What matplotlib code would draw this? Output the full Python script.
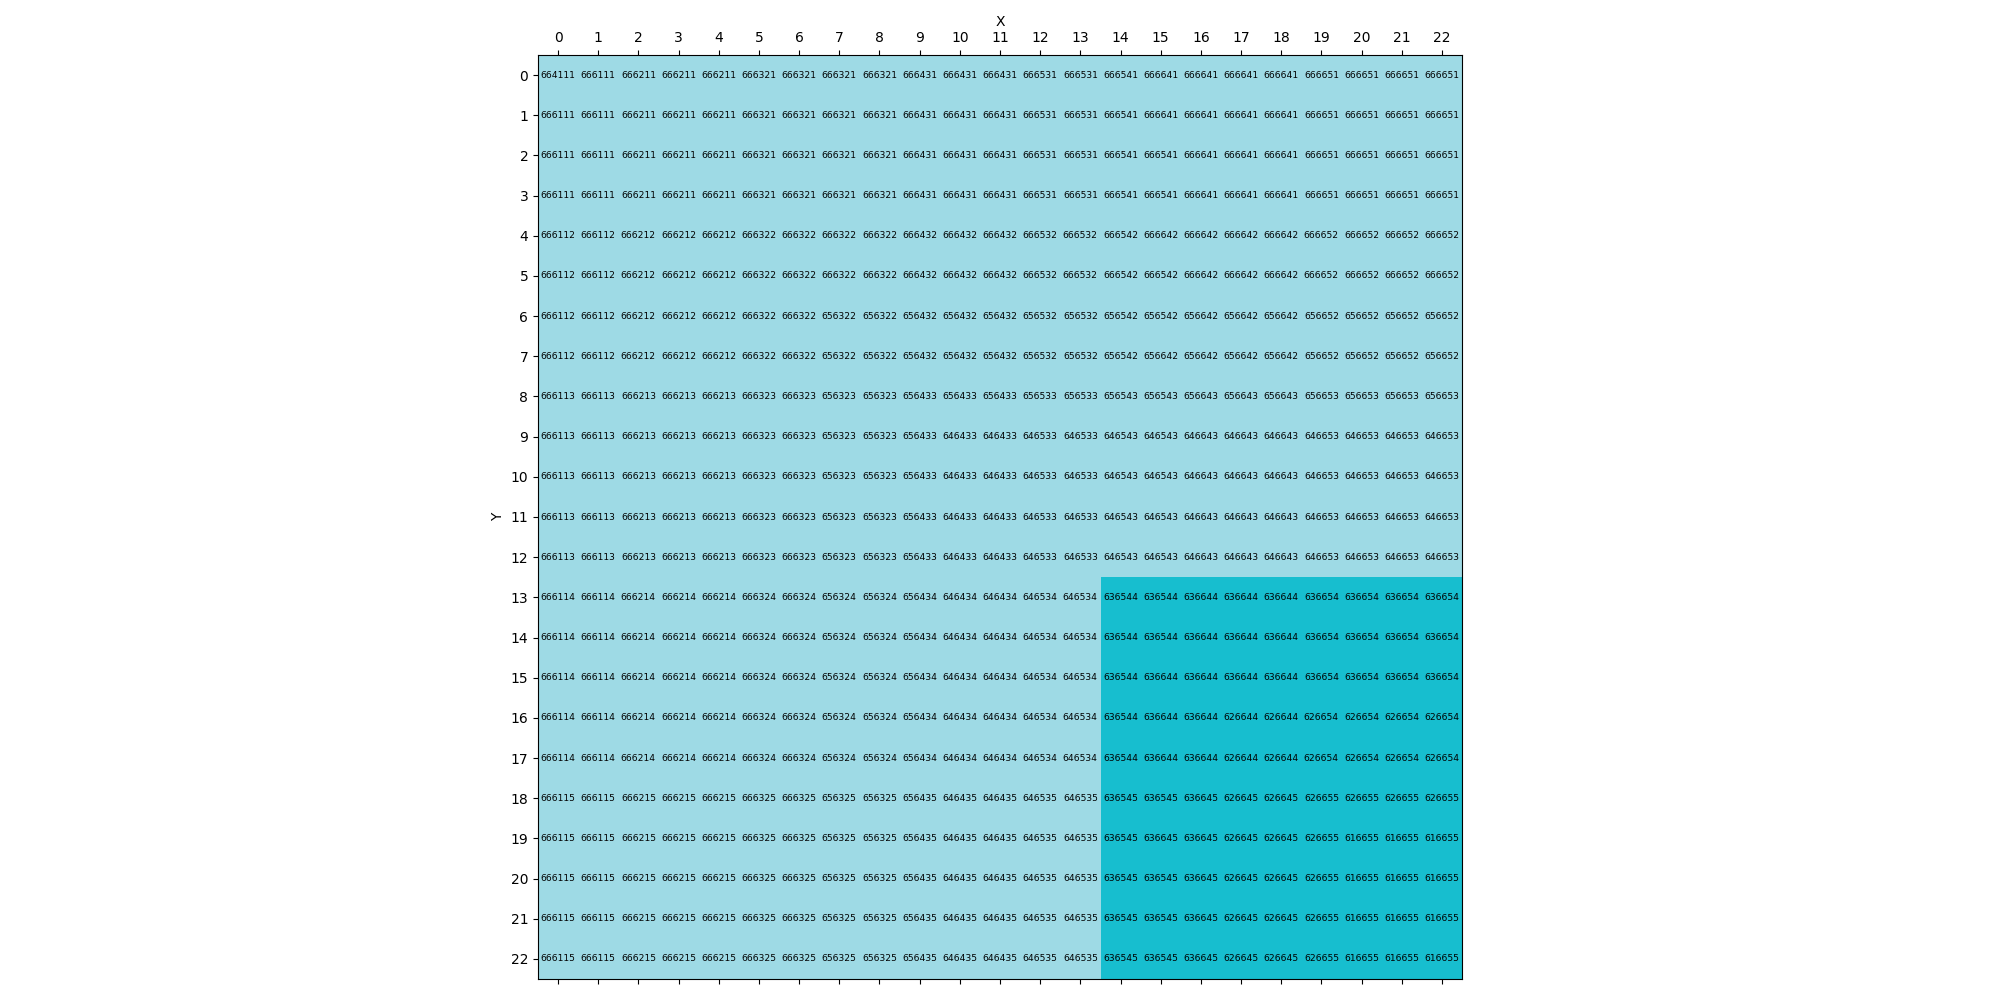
import numpy as np
import matplotlib
matplotlib.use('Agg')
import matplotlib.pyplot as plt
from matplotlib.colors import ListedColormap

# cell codes, one string per grid row (Y = 0..22), columns X = 0..22
rows = [
    "664111 666111 666211 666211 666211 666321 666321 666321 666321 666431 666431 666431 666531 666531 666541 666641 666641 666641 666641 666651 666651 666651 666651",
    "666111 666111 666211 666211 666211 666321 666321 666321 666321 666431 666431 666431 666531 666531 666541 666641 666641 666641 666641 666651 666651 666651 666651",
    "666111 666111 666211 666211 666211 666321 666321 666321 666321 666431 666431 666431 666531 666531 666541 666541 666641 666641 666641 666651 666651 666651 666651",
    "666111 666111 666211 666211 666211 666321 666321 666321 666321 666431 666431 666431 666531 666531 666541 666541 666641 666641 666641 666651 666651 666651 666651",
    "666112 666112 666212 666212 666212 666322 666322 666322 666322 666432 666432 666432 666532 666532 666542 666642 666642 666642 666642 666652 666652 666652 666652",
    "666112 666112 666212 666212 666212 666322 666322 666322 666322 666432 666432 666432 666532 666532 666542 666542 666642 666642 666642 666652 666652 666652 666652",
    "666112 666112 666212 666212 666212 666322 666322 656322 656322 656432 656432 656432 656532 656532 656542 656542 656642 656642 656642 656652 656652 656652 656652",
    "666112 666112 666212 666212 666212 666322 666322 656322 656322 656432 656432 656432 656532 656532 656542 656642 656642 656642 656642 656652 656652 656652 656652",
    "666113 666113 666213 666213 666213 666323 666323 656323 656323 656433 656433 656433 656533 656533 656543 656543 656643 656643 656643 656653 656653 656653 656653",
    "666113 666113 666213 666213 666213 666323 666323 656323 656323 656433 646433 646433 646533 646533 646543 646543 646643 646643 646643 646653 646653 646653 646653",
    "666113 666113 666213 666213 666213 666323 666323 656323 656323 656433 646433 646433 646533 646533 646543 646543 646643 646643 646643 646653 646653 646653 646653",
    "666113 666113 666213 666213 666213 666323 666323 656323 656323 656433 646433 646433 646533 646533 646543 646543 646643 646643 646643 646653 646653 646653 646653",
    "666113 666113 666213 666213 666213 666323 666323 656323 656323 656433 646433 646433 646533 646533 646543 646543 646643 646643 646643 646653 646653 646653 646653",
    "666114 666114 666214 666214 666214 666324 666324 656324 656324 656434 646434 646434 646534 646534 636544 636544 636644 636644 636644 636654 636654 636654 636654",
    "666114 666114 666214 666214 666214 666324 666324 656324 656324 656434 646434 646434 646534 646534 636544 636544 636644 636644 636644 636654 636654 636654 636654",
    "666114 666114 666214 666214 666214 666324 666324 656324 656324 656434 646434 646434 646534 646534 636544 636644 636644 636644 636644 636654 636654 636654 636654",
    "666114 666114 666214 666214 666214 666324 666324 656324 656324 656434 646434 646434 646534 646534 636544 636644 636644 626644 626644 626654 626654 626654 626654",
    "666114 666114 666214 666214 666214 666324 666324 656324 656324 656434 646434 646434 646534 646534 636544 636644 636644 626644 626644 626654 626654 626654 626654",
    "666115 666115 666215 666215 666215 666325 666325 656325 656325 656435 646435 646435 646535 646535 636545 636545 636645 626645 626645 626655 626655 626655 626655",
    "666115 666115 666215 666215 666215 666325 666325 656325 656325 656435 646435 646435 646535 646535 636545 636645 636645 626645 626645 626655 616655 616655 616655",
    "666115 666115 666215 666215 666215 666325 666325 656325 656325 656435 646435 646435 646535 646535 636545 636545 636645 626645 626645 626655 616655 616655 616655",
    "666115 666115 666215 666215 666215 666325 666325 656325 656325 656435 646435 646435 646535 646535 636545 636545 636645 626645 626645 626655 616655 616655 616655",
    "666115 666115 666215 666215 666215 666325 666325 656325 656325 656435 646435 646435 646535 646535 636545 636545 636645 626645 626645 626655 616655 616655 616655",
]
labels = [r.split() for r in rows]
n = len(labels)

# cells whose code starts at 63 or below are drawn dark
dark = np.array([[int(c[:2]) <= 63 for c in row] for row in labels], dtype=float)

cmap = ListedColormap(['#9edae5', '#17becf'])

fig = plt.figure(figsize=(20, 10), dpi=100)
ax = fig.add_axes([0.269, 0.021, 0.462, 0.924])
ax.imshow(dark, cmap=cmap, vmin=0, vmax=1, aspect='equal')

for i in range(n):
    for j in range(n):
        ax.text(j, i, labels[i][j], ha='center', va='center', fontsize=6.6, color='black')

ax.set_xticks(range(n))
ax.set_yticks(range(n))
ax.tick_params(axis='x', top=True, labeltop=True, bottom=True, labelbottom=False)
ax.xaxis.set_label_position('top')
ax.set_xlabel('X')
ax.set_ylabel('Y')

fig.savefig('out.png')
